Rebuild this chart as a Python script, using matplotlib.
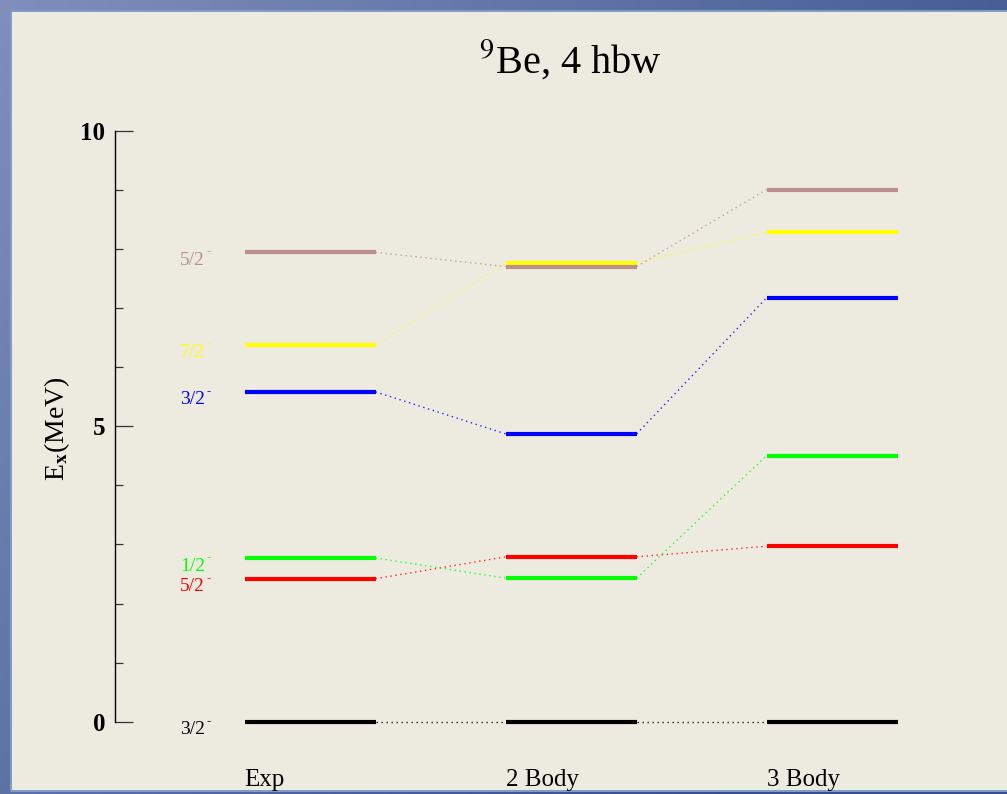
import numpy as np
import matplotlib.pyplot as plt
from matplotlib.patches import Rectangle
from matplotlib.ticker import MultipleLocator, FixedLocator

plt.rcParams['font.family'] = ['Liberation Serif', 'DejaVu Serif']
plt.rcParams['mathtext.fontset'] = 'stix'

# level scheme of 9Be: experiment vs. 2- and 3-body calculations (MeV)
columns = ["Exp", "2 Body", "3 Body"]
spins = ["3/2", "5/2", "1/2", "3/2", "7/2", "5/2"]
colors = ["black", "#ff0000", "#00ff00", "#0000ff", "#ffff00", "#bc8f8c"]
e_exp = [0.0, 2.42, 2.77, 5.58, 6.38, 7.94]
e_2body = [0.0, 2.79, 2.43, 4.87, 7.76, 7.70]
e_3body = [0.0, 2.97, 4.50, 7.17, 8.28, 9.00]
energies = [e_exp, e_2body, e_3body]

W, H = 1007, 794
fig = plt.figure(figsize=(W / 100, H / 100), dpi=100)

# blue slide frame behind the plot panel
bg = fig.add_axes([0, 0, 1, 1])
yy, xx = np.mgrid[0:1:200j, 0:1:200j]
t = np.clip(0.75 * xx + 0.45 * yy, 0, 1)[..., None]
light = np.array([128, 143, 188]) / 255
dark = np.array([52, 78, 135]) / 255
bg.imshow(light * (1 - t) + dark * t, extent=[0, 1, 0, 1], aspect='auto', origin='upper')
bg.add_patch(Rectangle((11 / W, 3 / H), 1, 1 - 14 / H, fill=False,
                       edgecolor='#7f9cc8', lw=1.5, transform=bg.transAxes))
bg.set_xlim(0, 1); bg.set_ylim(0, 1)
bg.axis('off')

ax = fig.add_axes([12 / W, 4 / H, 995 / W, 778 / H], facecolor='#edebe0')

half = 0.251
for i in range(len(columns)):
    for e, c in zip(energies[i], colors):
        ax.plot([i - half, i + half], [e, e], color=c, lw=3, solid_capstyle='butt', zorder=3)
    if i < len(columns) - 1:
        for e0, e1, c in zip(energies[i], energies[i + 1], colors):
            ax.plot([i + half, i + 1 - half], [e0, e1], color=c, lw=1.0,
                    ls=(0, (1, 2.6)), alpha=0.85, zorder=2)
    ax.text(i - half, -1.086, columns[i], ha='left', va='baseline', fontsize=18)

# spin-parity labels next to the experimental levels
for s, e, c in zip(spins, e_exp, colors):
    ax.annotate(s, xy=(-0.498, e), xytext=(0, -8), textcoords='offset pixels',
                ha='left', va='center', color=c, fontsize=14)
    ax.annotate("-", xy=(-0.498, e), xytext=(26, 1), textcoords='offset pixels',
                ha='left', va='center', color=c, fontsize=9, fontweight='bold')

ax.set_xlim(-1.142, 2.670)
ax.set_ylim(-1.153, 12.004)
for side in ['top', 'right', 'bottom']:
    ax.spines[side].set_visible(False)
ax.spines['left'].set_position(('data', -0.747))
ax.spines['left'].set_bounds(0, 10)
ax.spines['left'].set_linewidth(1.0)
ax.set_xticks([])
ax.yaxis.set_major_locator(FixedLocator([0, 5, 10]))
ax.yaxis.set_minor_locator(FixedLocator([1, 2, 3, 4, 6, 7, 8, 9]))
ax.tick_params(axis='y', which='major', direction='in', length=13, width=0.9,
               color='#333333', pad=7, labelsize=18)
ax.tick_params(axis='y', which='minor', direction='in', length=6, width=0.9, color='#333333')
for lab in ax.get_yticklabels():
    lab.set_fontweight('bold')

fig.text(570 / W, 1 - 60 / H, "$^{9}$Be, 4 hbw", ha='center', va='center', fontsize=29)
fig.text(57 / W, 1 - 429 / H, "E$_{\\mathbf{x}}$(MeV)", rotation=90,
         ha='center', va='center', fontsize=20)

fig.savefig('out.png', dpi=100)
